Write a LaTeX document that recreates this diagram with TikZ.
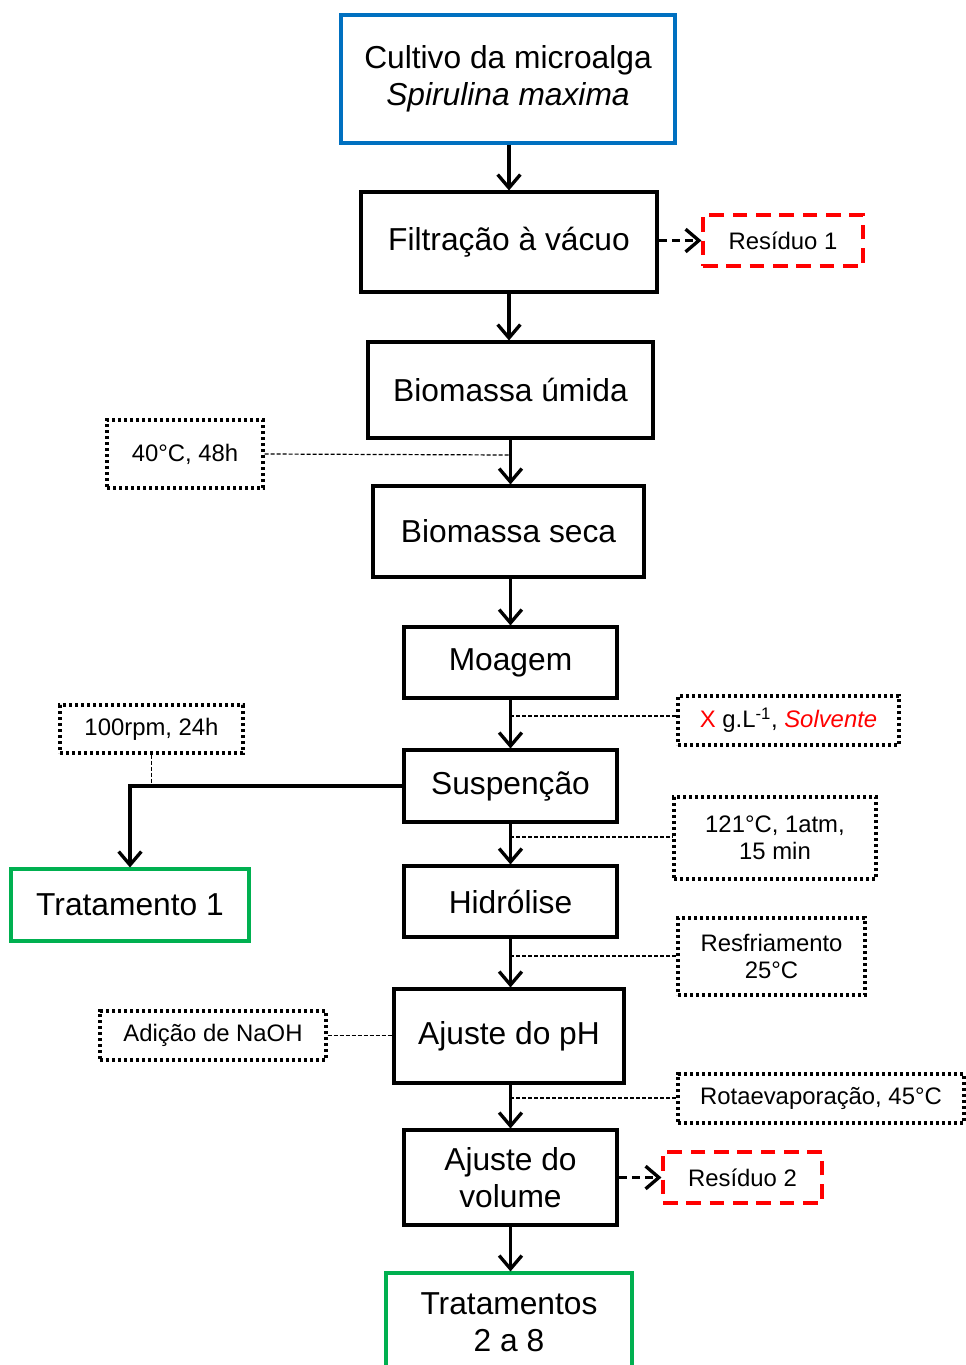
\documentclass[tikz,border=0pt]{standalone}
\usepackage{fontspec}
\setmainfont{Liberation Sans}
\usetikzlibrary{arrows.meta}
\definecolor{cblue}{RGB}{0,112,192}
\definecolor{cgreen}{RGB}{0,176,80}
\begin{document}
\begin{tikzpicture}[x=0.75pt,y=-0.75pt,
 sz/.style 2 args={minimum width=#1*0.75pt, minimum height=#2*0.75pt},
 box/.style={draw, line width=2.3pt, inner sep=0pt, align=center, font=\fontsize{23.8}{27.7}\selectfont},
 bluebox/.style={box, draw=cblue},
 greenbox/.style={box, draw=cgreen},
 dotbox/.style={draw, line width=2.4pt, dash pattern=on 2.4pt off 2.1pt, inner sep=0pt, align=center, font=\fontsize{17.9}{20.3}\selectfont},
 redbox/.style={draw=red, line width=2.3pt, dash pattern=on 11pt off 6.5pt, inner sep=0pt, align=center, font=\fontsize{17.9}{20.3}\selectfont},
 arr/.style={line width=2.5pt, -{Straight Barb[length=10pt,width=17pt,line width=2.5pt]}},
 darr/.style={arr, dash pattern=on 6pt off 4pt},
 conn/.style={line width=0.9pt, dash pattern=on 3pt off 1.5pt}
]
\useasboundingbox (0,0) rectangle (966,1365);

% main column
\node[bluebox, sz={334}{128}] (cult) at (508,79) {Cultivo da microalga\\\textit{Spirulina maxima}};
\node[box, sz={296}{100}] (filt) at (509,242) {Filtração à vácuo};
\node[box, sz={285}{96}] (bu) at (510.5,390) {Biomassa úmida};
\node[box, sz={271}{91}] (bs) at (508.5,531.5) {Biomassa seca};
\node[box, sz={213}{71}] (moag) at (510.5,662.5) {Moagem};
\node[box, sz={213}{72}] (susp) at (510.5,786) {Suspenção};
\node[box, sz={213}{71}] (hidr) at (510.5,901.5) {Hidrólise};
\node[box, sz={230}{94}] (ph) at (509,1036) {Ajuste do pH};
\node[box, sz={213}{95}] (vol) at (510.5,1177.5) {Ajuste do\\volume};
\node[greenbox, sz={246}{99}] (trat) at (509,1322.5) {Tratamentos\\2 a 8};
\node[greenbox, sz={238}{72}] (trat1) at (130,905) {Tratamento 1};

% side boxes
\node[redbox, sz={160}{51}] (res1) at (783,240.5) {Resíduo 1};
\node[redbox, sz={159}{51}] (res2) at (742.5,1177.5) {Resíduo 2};
\node[dotbox, sz={156}{68}] (temp) at (185,454) {40°C, 48h};
\node[dotbox, sz={221}{49}] (solv) at (788.5,720.5) {{\color{red}X} g.L\textsuperscript{-1}, {\color{red}\textit{Solvente}}};
\node[dotbox, sz={183}{48}] (rpm) at (151.5,729) {100rpm, 24h};
\node[dotbox, sz={202}{82}] (auto) at (775,838) {121°C, 1atm,\\15 min};
\node[dotbox, sz={187}{77}] (resf) at (771.5,956.5) {Resfriamento\\25°C};
\node[dotbox, sz={226}{49}] (naoh) at (213,1035.5) {Adição de NaOH};
\node[dotbox, sz={286}{49}] (rota) at (821,1098.5) {Rotaevaporação, 45°C};

% main arrows
\draw[arr] (filt.north |- cult.south) -- (filt.north);
\draw[arr] (filt.south) -- (filt.south |- bu.north);
\draw[arr] (bu.south) -- (bu.south |- bs.north);
\draw[arr] (moag.north |- bs.south) -- (moag.north);
\draw[arr] (moag.south) -- (moag.south |- susp.north);
\draw[arr] (susp.south) -- (susp.south |- hidr.north);
\draw[arr] (hidr.south) -- (hidr.south |- ph.north);
\draw[arr] (vol.north |- ph.south) -- (vol.north);
\draw[arr] (vol.south) -- (vol.south |- trat.north);

% dashed arrows to residues
\draw[darr] (filt.east |- res1.west) -- (res1.west);
\draw[darr] (vol.east) -- (res2.west);

% branch to Tratamento 1
\draw[arr] (susp.west) -| (trat1.north);
\coordinate (rpmj) at (rpm.south |- susp.west);
\draw[conn] (rpm.south) -- (rpmj);

% thin dashed connectors
\coordinate (c1) at (510,455);
\draw[conn] (temp.east) -- (c1);
\coordinate (c2) at (510,716);
\draw[conn] (c2) -- (solv.west |- c2);
\coordinate (c3) at (510,837);
\draw[conn] (c3) -- (auto.west |- c3);
\coordinate (c4) at (510,956);
\draw[conn] (c4) -- (resf.west |- c4);
\draw[conn] (naoh.east) -- (ph.west |- naoh.east);
\coordinate (c5) at (510,1098);
\draw[conn] (c5) -- (rota.west |- c5);
\end{tikzpicture}
\end{document}
